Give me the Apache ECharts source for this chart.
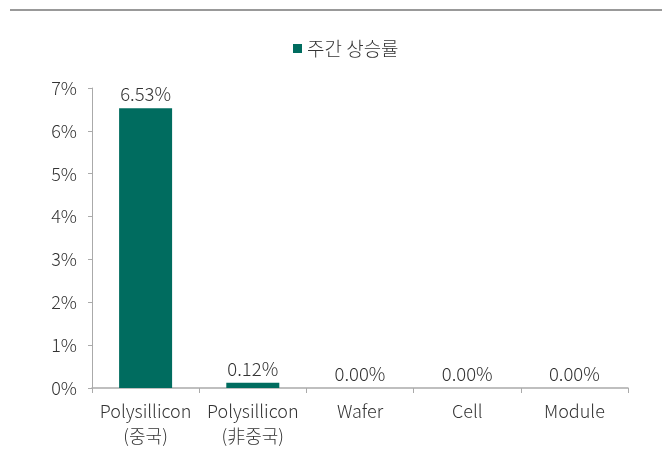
<!DOCTYPE html>
<html><head><meta charset="utf-8">
<script src="https://cdn.jsdelivr.net/npm/echarts@6/dist/echarts.min.js"></script>
<style>html,body{margin:0;padding:0;background:#fff}#c{width:662px;height:461px}</style>
</head><body><div id="c"></div>
<script>
const categories = ['Polysillicon\n(중국)', 'Polysillicon\n(非중국)', 'Wafer', 'Cell', 'Module'];
const seriesName = '주간 상승률';
const values = [6.53, 0.12, 0.00, 0.00, 0.00];
const yTicks = [0, 1, 2, 3, 4, 5, 6, 7];
const FONT = '"Noto Sans CJK KR", "Noto Sans", sans-serif';
const chart = echarts.init(document.getElementById('c'), null, {renderer: 'canvas'});
chart.setOption({
  animation: false,
  textStyle: {fontFamily: FONT, fontWeight: 300},
  graphic: [{type: 'line', shape: {x1: 10, y1: 10, x2: 662, y2: 10}, style: {stroke: '#999', lineWidth: 2}}],
  legend: {
    data: [seriesName], top: 34, left: 288, icon: 'rect', itemWidth: 9, itemHeight: 9, itemGap: 3,
    textStyle: {fontSize: 19, color: '#333', fontFamily: FONT, fontWeight: 300}
  },
  grid: {left: 92, right: 34, top: 88, bottom: 73},
  xAxis: {
    type: 'category', data: categories,
    axisLine: {lineStyle: {color: '#aaa', width: 1.5}},
    axisTick: {show: true, length: 5, lineStyle: {color: '#aaa'}},
    axisLabel: {interval: 0, fontSize: 18, color: '#333', lineHeight: 25, margin: 11, fontFamily: FONT, fontWeight: 300}
  },
  yAxis: {
    type: 'value', min: yTicks[0], max: yTicks[yTicks.length - 1], interval: 1,
    splitLine: {show: false},
    axisLine: {show: true, lineStyle: {color: '#aaa'}},
    axisTick: {show: true, length: 4, lineStyle: {color: '#aaa'}},
    axisLabel: {fontSize: 18, color: '#333', margin: 15, formatter: v => v + '%', fontFamily: FONT, fontWeight: 300}
  },
  series: [{
    name: seriesName, type: 'bar', data: values, barWidth: 53,
    itemStyle: {color: '#006C5F'},
    label: {show: true, position: 'top', distance: 5, fontSize: 18.5, color: '#333',
      formatter: p => p.value.toFixed(2) + '%', fontFamily: FONT, fontWeight: 300}
  }]
});
</script></body></html>
